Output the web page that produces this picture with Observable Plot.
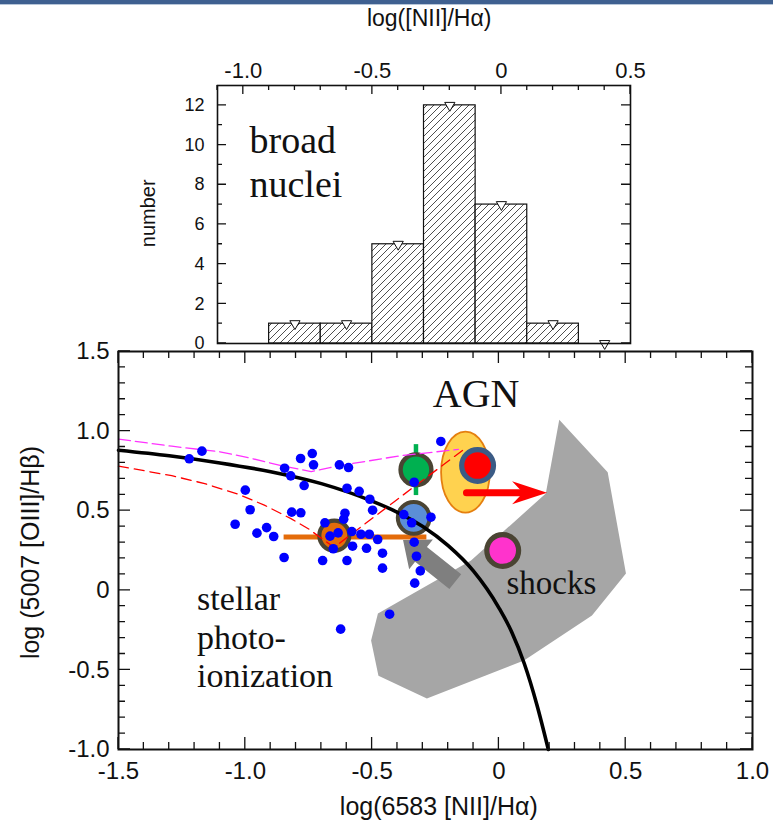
<!DOCTYPE html>
<html><head><meta charset="utf-8">
<script src="https://cdn.jsdelivr.net/npm/d3@7"></script>
<script src="https://cdn.jsdelivr.net/npm/@observablehq/plot@0.6"></script>
<style>
html,body{margin:0;padding:0;background:#fff;}
#wrap{position:relative;width:773px;height:834px;overflow:hidden;background:#fff;}
#topbar{position:absolute;left:0;top:0;width:773px;height:4px;background:#3f6090;border-bottom:1px solid #b7c6d9;}
#main,#hist{position:absolute;left:0;top:0;}
</style></head><body>
<div id="wrap"><div id="main"></div><div id="hist"></div><div id="topbar"></div></div>
<script>
// ---------- histogram (broad nuclei) ----------
const binStart = [-0.9, -0.7, -0.5, -0.3, -0.1, 0.1, 0.3];
const binEnd   = [-0.7, -0.5, -0.3, -0.1, 0.1, 0.3, 0.5];
const binCount = [1, 1, 5, 12, 7, 1, 0];
const histXTicks = [-1.0, -0.5, 0, 0.5];
const histYTicks = [0, 2, 4, 6, 8, 10, 12];

// ---------- main diagram: galaxies ----------
const galX = [-1.221,-1.171,-1.000,-0.981,-1.040,-0.954,-0.916,-0.888,-0.847,-0.845,-0.821,-0.782,-0.736,-0.731,-0.768,-0.817,-0.781,-0.686,-0.666,-0.634,-0.653,-0.695,-0.629,-0.593,-0.229,-0.599,-0.551,-0.509,-0.498,-0.607,-0.612,-0.580,-0.544,-0.511,-0.478,-0.577,-0.522,-0.459,-0.599,-0.459,-0.334,-0.375,-0.344,-0.268,-0.334,-0.325,-0.310,-0.332,-0.431,-0.624];
const galY = [0.826,0.874,0.629,0.506,0.415,0.359,0.394,0.338,0.206,0.767,0.719,0.828,0.859,0.788,0.658,0.491,0.487,0.424,0.340,0.361,0.261,0.187,0.788,0.771,0.935,0.641,0.622,0.572,0.503,0.484,0.447,0.369,0.352,0.352,0.319,0.277,0.264,0.233,0.187,0.139,0.679,0.476,0.424,0.459,0.302,0.214,0.122,0.045,-0.150,-0.244];

// demarcation curve (black)
const curveX = [-1.5,-1.3,-1.1,-0.9,-0.7,-0.5,-0.4,-0.3,-0.2,-0.1,0,0.05,0.1,0.15,0.195];
const curveY = [0.88,0.845,0.80,0.745,0.67,0.56,0.49,0.40,0.28,0.12,-0.11,-0.26,-0.46,-0.72,-1.0];
// magenta dashed track
const magX = [-1.5,-1.29,-1.1,-0.98,-0.85,-0.74,-0.64,-0.39,-0.16];
const magY = [0.95,0.905,0.87,0.83,0.78,0.746,0.78,0.845,0.885];
// red dashed track
const redX = [-1.5,-1.29,-1.16,-1.03,-0.925,-0.82,-0.75,-0.69,-0.65,-0.41,-0.13];
const redY = [0.78,0.72,0.67,0.605,0.535,0.45,0.385,0.315,0.27,0.56,0.895];
// shock region outline
const shockX = [0.238,0.429,0.501,0.367,0.099,-0.284,-0.475,-0.504,-0.477,-0.110,0.185,0.238];
const shockY = [1.071,0.742,0.106,-0.159,-0.441,-0.679,-0.536,-0.316,-0.146,0.187,0.608,1.071];
// large marked objects
const objName = ["green","blue","orange","red","magenta"];
const objX = [-0.327,-0.336,-0.649,-0.084,0.015];
const objY = [0.757,0.455,0.344,0.784,0.250];
// error bars
const greenBar = {x: -0.327, y1: 0.595, y2: 0.915};
const orangeBar = {y: 0.335, x1: -0.847, x2: -0.284};
// ellipse (centre, half-axes in data units)
const ellipse = {x: -0.130, y: 0.739, hx: 0.096, hy: 0.254};
// arrows (start -> tip)
const redArrow = {x1: -0.126, y1: 0.61, x2: 0.192, y2: 0.61};
const grayArrow = {x1: -0.170, y1: 0.051, x2: -0.376, y2: 0.313};
const mainXTicks = [-1.5,-1.0,-0.5,0,0.5,1.0];
const mainYTicks = [-1.0,-0.5,0,0.5,1.0,1.5];

// ---------- styles ----------
const SANS = "'Liberation Sans Narrow', 'Arial Narrow', 'Liberation Sans', Arial, sans-serif";
const SERIF = "'Liberation Serif', 'Times New Roman', serif";
const objStyle = {
  green:   {fill: "#00b050", stroke: "#4a4433", r: 15.4, sw: 4.4},
  blue:    {fill: "#5b8ed6", stroke: "#4a4433", r: 15.9, sw: 4.0},
  orange:  {fill: "#e46c0a", stroke: "#4a4433", r: 15.0, sw: 4.2},
  red:     {fill: "#ff0000", stroke: "#3b5b85", r: 15.9, sw: 5.2},
  magenta: {fill: "#ff33cc", stroke: "#4a4433", r: 15.9, sw: 5.2}
};
const fmt = d => d === 0 ? "0" : d.toFixed(1);
const NS = "http://www.w3.org/2000/svg";
const el = (tag, attrs) => { const e = document.createElementNS(NS, tag); for (const k in attrs) e.setAttribute(k, attrs[k]); return e; };

function ticksMark(spec) {
  return (index, scales, values, dims) => {
    const x0 = dims.marginLeft, x1 = dims.width - dims.marginRight;
    const y0 = dims.marginTop, y1 = dims.height - dims.marginBottom;
    let d = "";
    const vx = (vals, len) => { for (const v of vals) { const px = scales.x(v);
      if (spec.top) d += `M${px},${y0}v${len}`;
      if (spec.bottom) d += `M${px},${y1}v${-len}`; } };
    const vy = (vals, len) => { for (const v of vals) { const py = scales.y(v);
      if (spec.left) d += `M${x0},${py}h${len}`;
      if (spec.right) d += `M${x1},${py}h${-len}`; } };
    vx(spec.xMajor, spec.major); vx(spec.xMinor, spec.minor);
    vy(spec.yMajor, spec.major); vy(spec.yMinor, spec.minor);
    return el("path", {d, stroke: spec.stroke || "#111", "stroke-width": spec.width || 1.3, fill: "none"});
  };
}
const minorOf = (a, b, step, majors) => d3.range(Math.round((b - a) / step) + 1).map(i => +(a + i * step).toFixed(3)).filter(v => !majors.some(m => Math.abs(m - v) < 1e-6));

function ellipseMark(e) {
  return (index, scales) => {
    const cx = scales.x(e.x), cy = scales.y(e.y);
    const rx = Math.abs(scales.x(e.x + e.hx) - cx), ry = Math.abs(scales.y(e.y + e.hy) - cy);
    return el("ellipse", {cx, cy, rx, ry, fill: "#ffd24f", stroke: "#e57f0f", "stroke-width": 1.8});
  };
}
function blockArrow(a, {shaft, headLen, headHalf, fill}) {
  return (index, scales) => {
    const X1 = scales.x(a.x1), Y1 = scales.y(a.y1), X2 = scales.x(a.x2), Y2 = scales.y(a.y2);
    const L = Math.hypot(X2 - X1, Y2 - Y1), ux = (X2 - X1) / L, uy = (Y2 - Y1) / L, nx = -uy, ny = ux;
    const bx = X2 - ux * headLen, by = Y2 - uy * headLen;
    const pts = [[X1 + nx * shaft, Y1 + ny * shaft], [bx + nx * shaft, by + ny * shaft], [bx + nx * headHalf, by + ny * headHalf], [X2, Y2],
      [bx - nx * headHalf, by - ny * headHalf], [bx - nx * shaft, by - ny * shaft], [X1 - nx * shaft, Y1 - ny * shaft]];
    return el("polygon", {points: pts.map(p => p.join(",")).join(" "), fill});
  };
}
function barbArrow(a, {width, headLen, notch, headHalf, color}) {
  return (index, scales) => {
    const X1 = scales.x(a.x1), Y1 = scales.y(a.y1), X2 = scales.x(a.x2), Y2 = scales.y(a.y2);
    const L = Math.hypot(X2 - X1, Y2 - Y1), ux = (X2 - X1) / L, uy = (Y2 - Y1) / L, nx = -uy, ny = ux;
    const g = el("g", {});
    const mx = X2 - ux * notch, my = Y2 - uy * notch;
    g.appendChild(el("line", {x1: X1, y1: Y1, x2: mx, y2: my, stroke: color, "stroke-width": width, "stroke-linecap": "round"}));
    const bx = X2 - ux * headLen, by = Y2 - uy * headLen;
    const pts = [[X2, Y2], [bx + nx * headHalf, by + ny * headHalf], [mx, my], [bx - nx * headHalf, by - ny * headHalf]];
    g.appendChild(el("polygon", {points: pts.map(p => p.join(",")).join(" "), fill: color}));
    return g;
  };
}

// ---------- main plot ----------
const gal = galX.map((x, i) => ({x, y: galY[i]}));
const curve = curveX.map((x, i) => ({x, y: curveY[i]}));
const mag = magX.map((x, i) => ({x, y: magY[i]}));
const red = redX.map((x, i) => ({x, y: redY[i]}));
const shock = shockX.map((x, i) => ({x, y: shockY[i]}));
const objs = objName.map((n, i) => ({name: n, x: objX[i], y: objY[i]}));

const mainPlot = Plot.plot({
  width: 773, height: 834,
  marginLeft: 118, marginRight: 21, marginTop: 351, marginBottom: 85,
  x: {domain: [-1.5, 1.0]},
  y: {domain: [-1.0, 1.5]},
  style: {background: "transparent", fontFamily: SANS, fontSize: "24px", color: "#111", overflow: "visible"},
  marks: [
    Plot.line(shock, {x: "x", y: "y", fill: "#a6a6a6", stroke: "none"}),
    blockArrow(grayArrow, {shaft: 9.5, headLen: 23, headHalf: 19, fill: "#7f7f7f"}),
    ellipseMark(ellipse),
    Plot.ruleX([greenBar], {x: "x", y1: "y1", y2: "y2", stroke: "#00b050", strokeWidth: 4.5}),
    Plot.ruleY([orangeBar], {y: "y", x1: "x1", x2: "x2", stroke: "#e46c0a", strokeWidth: 5}),
    ...objs.map(o => Plot.dot([o], {x: "x", y: "y", r: objStyle[o.name].r, fill: objStyle[o.name].fill, stroke: objStyle[o.name].stroke, strokeWidth: objStyle[o.name].sw})),
    Plot.line(curve, {x: "x", y: "y", curve: "monotone-x", stroke: "black", strokeWidth: 3.6}),
    Plot.line(mag, {x: "x", y: "y", stroke: "#ff33ff", strokeWidth: 1.3, strokeDasharray: "12,5"}),
    Plot.line(red, {x: "x", y: "y", stroke: "#ff0000", strokeWidth: 1.3, strokeDasharray: "10,6"}),
    barbArrow(redArrow, {width: 7, headLen: 35, notch: 24, headHalf: 11.5, color: "#ff0000"}),
    Plot.dot(gal, {x: "x", y: "y", r: 4.8, fill: "#0000ff"}),
    Plot.text(["AGN"], {text: d => d, x: -0.09, y: 1.15, fontFamily: SERIF, fontSize: 40, lineAnchor: "bottom", fill: "#111"}),
    Plot.text(["shocks"], {text: d => d, x: 0.030, y: -0.022, textAnchor: "start", fontFamily: SERIF, fontSize: 33, lineAnchor: "bottom", fill: "#111"}),
    Plot.text(["stellar\nphoto-\nionization"], {text: d => d, x: -1.19, y: -0.609, textAnchor: "start", fontFamily: SERIF, fontSize: 34, lineHeight: 1.13, lineAnchor: "bottom", fill: "#111"}),
    Plot.frame({stroke: "#111", strokeWidth: 2}),
    ticksMark({top: true, bottom: true, left: true, right: true, major: 12, minor: 7,
      xMajor: mainXTicks, xMinor: minorOf(-1.5, 1.0, 0.1, mainXTicks),
      yMajor: mainYTicks, yMinor: minorOf(-1.0, 1.5, 0.1, mainYTicks)}),
    Plot.axisX({anchor: "bottom", ticks: mainXTicks, tickFormat: fmt, tickSize: 0, tickPadding: 12, fontSize: 24, label: null}),
    Plot.axisY({anchor: "left", ticks: mainYTicks, tickFormat: fmt, tickSize: 0, tickPadding: 9, fontSize: 24, label: null}),
    Plot.text(["log(6583 [NII]/Hα)"], {text: d => d, x: -0.237, frameAnchor: "bottom", textAnchor: "middle", dy: 65, fontSize: 25, fill: "#111"}),
    Plot.text(["log (5007 [OIII]/Hβ)"], {text: d => d, y: 0.237, frameAnchor: "left", textAnchor: "middle", lineAnchor: "middle", dx: -88, rotate: -90, fontSize: 25, fill: "#111"})
  ]
});
document.getElementById("main").appendChild(mainPlot);

// ---------- histogram plot ----------
const hist = binStart.map((s, i) => ({x1: s, x2: binEnd[i], mid: (s + binEnd[i]) / 2, count: binCount[i]}));
const hatchDefs = () => {
  const defs = el("defs", {});
  const pat = el("pattern", {id: "hatch", patternUnits: "userSpaceOnUse", width: 7, height: 7});
  pat.appendChild(el("rect", {width: 7, height: 7, fill: "white"}));
  pat.appendChild(el("path", {d: "M0,7L7,0M-1,1L1,-1M6,8L8,6", stroke: "#222", "stroke-width": 0.8}));
  defs.appendChild(pat);
  return defs;
};
const histPlot = Plot.plot({
  width: 773, height: 350,
  marginLeft: 217, marginRight: 143, marginTop: 85, marginBottom: 7,
  x: {domain: [-1.1, 0.5]},
  y: {domain: [0, 13]},
  style: {background: "transparent", fontFamily: SANS, fontSize: "18px", color: "#111", overflow: "visible"},
  marks: [
    hatchDefs,
    Plot.rect(hist.filter(d => d.count > 0), {x1: "x1", x2: "x2", y1: 0, y2: "count", fill: "url(#hatch)", stroke: "#111", strokeWidth: 1.2}),
    Plot.dot(hist, {x: "mid", y: "count", symbol: "triangle", rotate: 180, r: 3.8, fill: "white", stroke: "#111", strokeWidth: 1}),
    Plot.frame({stroke: "#111", strokeWidth: 1.6}),
    ticksMark({top: true, bottom: false, left: true, right: true, major: 9, minor: 5,
      xMajor: histXTicks, xMinor: minorOf(-1.1, 0.5, 0.1, histXTicks),
      yMajor: histYTicks, yMinor: [1, 3, 5, 7, 9, 11]}),
    Plot.axisY({anchor: "left", ticks: histYTicks, tickSize: 0, tickPadding: 13, fontSize: 18, label: null}),
    Plot.axisX({anchor: "top", ticks: histXTicks, tickFormat: fmt, tickSize: 0, tickPadding: 8, fontSize: 22, label: null}),
    Plot.text(["log([NII]/Hα)"], {text: d => d, x: -0.28, frameAnchor: "top", textAnchor: "middle", lineAnchor: "top", dy: -76, fontSize: 23, fill: "#111"}),
    Plot.text(["number"], {text: d => d, y: 6.56, frameAnchor: "left", textAnchor: "middle", lineAnchor: "middle", dx: -69, rotate: -90, fontSize: 20, fill: "#111"}),
    Plot.text(["broad\nnuclei"], {text: d => d, x: -0.976, y: 7.38, textAnchor: "start", fontFamily: SERIF, fontSize: 38, lineHeight: 1.16, lineAnchor: "bottom", fill: "#111"})
  ]
});
document.getElementById("hist").appendChild(histPlot);
</script>
</body></html>
